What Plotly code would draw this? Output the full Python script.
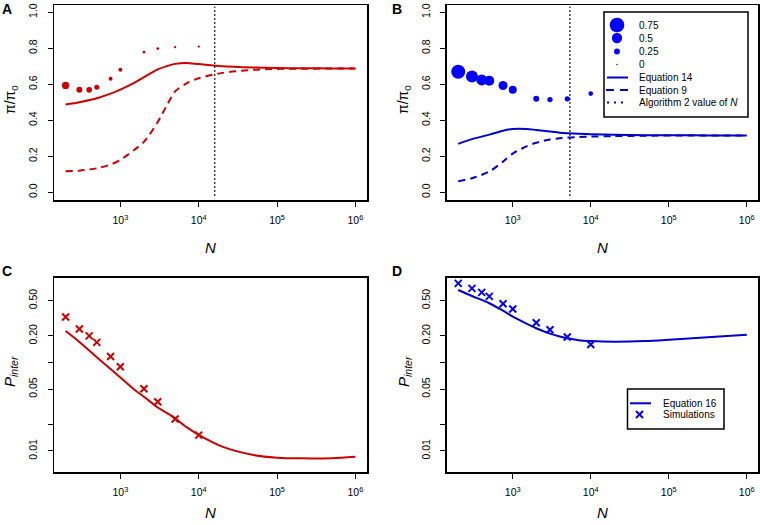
import plotly.graph_objects as go

W, H = 760, 525
FONT = "Liberation Sans, Arial, Helvetica, sans-serif"

# ---------------- data ----------------
N_SIM = [200, 300, 400, 500, 750, 1000, 2000, 3000, 5000, 10000]
N_CURVE = [200, 300, 500, 750, 1000, 1500, 2000, 3000, 4000, 5000, 7000,
           10000, 20000, 50000, 1e5, 2e5, 5e5, 1e6]

# panel A (red)
A_SIM_PI = [0.593, 0.569, 0.569, 0.583, 0.630, 0.681, 0.778, 0.798, 0.806, 0.809]
A_SIM_W = [0.33, 0.257, 0.24, 0.20, 0.143, 0.143, 0.07, 0.07, 0.046, 0.046]
A_EQ14 = [0.487, 0.500, 0.522, 0.548, 0.570, 0.607, 0.639, 0.682, 0.702, 0.713, 0.718,
          0.712, 0.700, 0.693, 0.690, 0.689, 0.688, 0.687]
A_EQ9 = [0.117, 0.120, 0.133, 0.154, 0.180, 0.235, 0.280, 0.390, 0.490, 0.560, 0.605,
         0.633, 0.663, 0.680, 0.685, 0.686, 0.687, 0.687]
A_ALG2_N = 16000

# panel B (blue)
B_SIM_PI = [0.669, 0.643, 0.624, 0.619, 0.593, 0.569, 0.520, 0.515, 0.519, 0.548]
B_SIM_W = [0.714, 0.60, 0.543, 0.486, 0.43, 0.37, 0.257, 0.217, 0.217, 0.18]
B_EQ14 = [0.269, 0.295, 0.320, 0.342, 0.352, 0.352, 0.346, 0.337, 0.331, 0.328, 0.325,
          0.322, 0.319, 0.317, 0.317, 0.316, 0.315, 0.315]
B_EQ9 = [0.061, 0.078, 0.115, 0.170, 0.215, 0.255, 0.275, 0.293, 0.300, 0.304, 0.307,
         0.309, 0.312, 0.314, 0.315, 0.315, 0.315, 0.315]
B_ALG2_N = 5400

# panel C (red) and D (blue): P_inter
C_SIM = [0.327, 0.239, 0.200, 0.169, 0.117, 0.0897, 0.0506, 0.036, 0.023, 0.0151]
C_EQ16 = [0.227, 0.171, 0.115, 0.0845, 0.0677, 0.0495, 0.0411, 0.031, 0.0266, 0.0234, 0.0186,
          0.0152, 0.0112, 0.0090, 0.0084, 0.00826, 0.0083, 0.0086]
D_SIM = [0.785, 0.689, 0.621, 0.560, 0.462, 0.403, 0.282, 0.235, 0.194, 0.160]
D_EQ16 = [0.660, 0.565, 0.468, 0.385, 0.330, 0.275, 0.244, 0.212, 0.197, 0.188, 0.179,
          0.175, 0.172, 0.175, 0.181, 0.188, 0.198, 0.206]

SIZE_LEGEND = [0.75, 0.5, 0.25, 0]
SIZE_LEGEND_LABELS = ["0.75", "0.5", "0.25", "0"]
X_TICKS = [1e3, 1e4, 1e5, 1e6]
X_TICKTEXT = ["10<sup>3</sup>", "10<sup>4</sup>", "10<sup>5</sup>", "10<sup>6</sup>"]
Y_TOP_TICKS = [0, 0.2, 0.4, 0.6, 0.8, 1.0]
Y_TOP_TICKTEXT = ["0.0", "0.2", "0.4", "0.6", "0.8", "1.0"]
Y_BOT_TICKS = [0.01, 0.02, 0.05, 0.1, 0.2, 0.5]
Y_BOT_TICKTEXT = ["0.01", "", "0.05", "", "0.20", "0.50"]

RED = "#CD0000"
BLUE_PT = "#0000FF"
BLUE_LN = "#0000CD"


def msize(v):
    return 1.5 + 17.5 * v


SIZE_A = [msize(v) for v in A_SIM_W]
SIZE_B = [msize(v) for v in B_SIM_W]
SIZE_LEG = [msize(v) for v in SIZE_LEGEND]

fig = go.Figure()

# ---- panel A ----
fig.add_trace(go.Scatter(x=N_CURVE, y=A_EQ9, mode="lines", line=dict(color=RED, width=2, dash="7px,5px", shape="spline", smoothing=0.8),
                         xaxis="x", yaxis="y", showlegend=False))
fig.add_trace(go.Scatter(x=N_CURVE, y=A_EQ14, mode="lines", line=dict(color=RED, width=2, shape="spline", smoothing=0.8),
                         xaxis="x", yaxis="y", showlegend=False))
fig.add_trace(go.Scatter(x=N_SIM, y=A_SIM_PI, mode="markers", opacity=1,
                         marker=dict(color=RED, size=SIZE_A, opacity=1, line=dict(width=0)),
                         xaxis="x", yaxis="y", showlegend=False))
fig.add_trace(go.Scatter(x=[A_ALG2_N, A_ALG2_N], y=[-0.02, 1.03], mode="lines",
                         line=dict(color="black", width=1.5, dash="1.5px,2.5px"),
                         xaxis="x", yaxis="y", showlegend=False))

# ---- panel B ----
fig.add_trace(go.Scatter(x=N_CURVE, y=B_EQ9, mode="lines", line=dict(color=BLUE_LN, width=2, dash="7px,5px", shape="spline", smoothing=0.8),
                         xaxis="x2", yaxis="y2", showlegend=False))
fig.add_trace(go.Scatter(x=N_CURVE, y=B_EQ14, mode="lines", line=dict(color=BLUE_LN, width=2, shape="spline", smoothing=0.8),
                         xaxis="x2", yaxis="y2", showlegend=False))
fig.add_trace(go.Scatter(x=N_SIM, y=B_SIM_PI, mode="markers", opacity=1,
                         marker=dict(color=BLUE_PT, size=SIZE_B, opacity=1, line=dict(width=0)),
                         xaxis="x2", yaxis="y2", showlegend=False))
fig.add_trace(go.Scatter(x=[B_ALG2_N, B_ALG2_N], y=[-0.02, 1.03], mode="lines",
                         line=dict(color="black", width=1.5, dash="1.5px,2.5px"),
                         xaxis="x2", yaxis="y2", showlegend=False))

# ---- panel C ----
fig.add_trace(go.Scatter(x=N_CURVE, y=C_EQ16, mode="lines", line=dict(color=RED, width=2, shape="spline", smoothing=0.8),
                         xaxis="x3", yaxis="y3", showlegend=False))
fig.add_trace(go.Scatter(x=N_SIM, y=C_SIM, mode="markers",
                         marker=dict(symbol="x-thin", size=7, line=dict(color=RED, width=2)),
                         xaxis="x3", yaxis="y3", showlegend=False))

# ---- panel D ----
fig.add_trace(go.Scatter(x=N_CURVE, y=D_EQ16, mode="lines", line=dict(color=BLUE_LN, width=2, shape="spline", smoothing=0.8),
                         xaxis="x4", yaxis="y4", showlegend=False))
fig.add_trace(go.Scatter(x=N_SIM, y=D_SIM, mode="markers",
                         marker=dict(symbol="x-thin", size=7, line=dict(color=BLUE_PT, width=2)),
                         xaxis="x4", yaxis="y4", showlegend=False))

# ---- legend symbols on a pixel overlay axis ----
LEG_B_ROWS = [25, 38, 51.5, 64.5, 77.5, 90, 102.5]
fig.add_trace(go.Scatter(x=[617] * 4, y=LEG_B_ROWS[:4], mode="markers",
                         marker=dict(color=BLUE_PT, size=SIZE_LEG, opacity=1, line=dict(width=0)),
                         xaxis="x5", yaxis="y5", showlegend=False, hoverinfo="skip"))
fig.add_trace(go.Scatter(x=[607, 628], y=[LEG_B_ROWS[4]] * 2, mode="lines", line=dict(color=BLUE_LN, width=2),
                         xaxis="x5", yaxis="y5", showlegend=False, hoverinfo="skip"))
fig.add_trace(go.Scatter(x=[606, 629], y=[LEG_B_ROWS[5]] * 2, mode="lines", line=dict(color=BLUE_LN, width=2, dash="8px,6px"),
                         xaxis="x5", yaxis="y5", showlegend=False, hoverinfo="skip"))
fig.add_trace(go.Scatter(x=[607, 628], y=[LEG_B_ROWS[6]] * 2, mode="lines", line=dict(color=BLUE_LN, width=2, dash="2px,5px"),
                         xaxis="x5", yaxis="y5", showlegend=False, hoverinfo="skip"))
fig.add_trace(go.Scatter(x=[630, 651], y=[403.3, 403.3], mode="lines", line=dict(color=BLUE_LN, width=2),
                         xaxis="x5", yaxis="y5", showlegend=False, hoverinfo="skip"))
fig.add_trace(go.Scatter(x=[639.5], y=[414.5], mode="markers",
                         marker=dict(symbol="x-thin", size=7, line=dict(color=BLUE_PT, width=2)),
                         xaxis="x5", yaxis="y5", showlegend=False, hoverinfo="skip"))

leg_b_texts = SIZE_LEGEND_LABELS + ["Equation 14", "Equation 9", "Algorithm 2 value of <i>N</i>"]
annotations = []
for t, yy in zip(leg_b_texts, LEG_B_ROWS):
    annotations.append(dict(x=637, y=yy, xref="x5", yref="y5", text=t, showarrow=False,
                            xanchor="left", yanchor="middle", font=dict(size=10, family=FONT, color="black")))
for t, yy in zip(["Equation 16", "Simulations"], [403.3, 414.5]):
    annotations.append(dict(x=660.5, y=yy, xref="x5", yref="y5", text=t, showarrow=False,
                            xanchor="left", yanchor="middle", font=dict(size=10, family=FONT, color="black")))

# panel labels
for t, xx, yy in [("A", 7, 8.5), ("B", 396.5, 8.5), ("C", 7, 271), ("D", 396.5, 271)]:
    annotations.append(dict(x=xx, y=yy, xref="x5", yref="y5", text="<b>%s</b>" % t, showarrow=False,
                            xanchor="center", yanchor="middle", font=dict(size=14, family=FONT, color="black")))
# axis titles
for xx, yy in [(210.5, 247), (602.5, 247), (210.5, 512), (602.5, 512)]:
    annotations.append(dict(x=xx, y=yy, xref="x5", yref="y5", text="<i>N</i>", showarrow=False,
                            xanchor="center", yanchor="middle", font=dict(size=15, family=FONT, color="black")))
for xx, yy in [(11, 100), (404, 100)]:
    annotations.append(dict(x=xx, y=yy, xref="x5", yref="y5", text="π/π<sub>0</sub>", showarrow=False,
                            textangle=-90, xanchor="center", yanchor="middle",
                            font=dict(size=14, family=FONT, color="black")))
for xx, yy in [(10, 372), (404, 372)]:
    annotations.append(dict(x=xx, y=yy, xref="x5", yref="y5", text="<i>P</i><sub><i>inter</i></sub>", showarrow=False,
                            textangle=-90, xanchor="center", yanchor="middle",
                            font=dict(size=15, family=FONT, color="black")))

shapes = [
    dict(type="rect", xref="x5", yref="y5", x0=604, x1=748, y0=12, y1=117, line=dict(color="black", width=1.5)),
    dict(type="rect", xref="x5", yref="y5", x0=627.5, x1=724, y0=389, y1=429, line=dict(color="black", width=1.5)),
]

XL = [54 / W, 367 / W]
XR = [446.7 / W, 758.3 / W]
YT = [1 - 200 / H, 1 - 5 / H]
YB = [1 - 472.3 / H, 1 - 277.7 / H]

common = dict(showline=True, mirror=True, linecolor="black", linewidth=1.5, ticks="outside", ticklen=5,
              tickwidth=1, tickcolor="black", showgrid=False, zeroline=False,
              tickfont=dict(size=10.5, family=FONT, color="black"))
xcommon = dict(common, type="log", range=[2.153, 6.148], tickvals=X_TICKS, ticktext=X_TICKTEXT,
               ticklabelstandoff=5)
ytop = dict(common, range=[-0.043, 1.04], tickvals=Y_TOP_TICKS, ticktext=Y_TOP_TICKTEXT, tickangle=-90,
            ticklabelstandoff=6)
ybot = dict(common, type="log", range=[-2.241, -0.041], tickvals=Y_BOT_TICKS, ticktext=Y_BOT_TICKTEXT,
            tickangle=-90, ticklabelstandoff=6)

fig.update_layout(
    width=W, height=H, margin=dict(l=0, r=0, t=0, b=0),
    paper_bgcolor="white", plot_bgcolor="rgba(0,0,0,0)", template="none",
    font=dict(family=FONT, color="black"),
    xaxis=dict(xcommon, domain=XL, anchor="y"),
    yaxis=dict(ytop, domain=YT, anchor="x"),
    xaxis2=dict(xcommon, domain=XR, anchor="y2"),
    yaxis2=dict(ytop, domain=YT, anchor="x2"),
    xaxis3=dict(xcommon, domain=XL, anchor="y3"),
    yaxis3=dict(ybot, domain=YB, anchor="x3"),
    xaxis4=dict(xcommon, domain=XR, anchor="y4"),
    yaxis4=dict(ybot, domain=YB, anchor="x4"),
    xaxis5=dict(domain=[0, 1], range=[0, W], visible=False, fixedrange=True, anchor="y5"),
    yaxis5=dict(domain=[0, 1], range=[H, 0], visible=False, fixedrange=True, anchor="x5"),
    annotations=annotations, shapes=shapes, showlegend=False, hovermode=False,
)

fig.write_html("out.html", config={"displayModeBar": False, "staticPlot": True},
               post_script="document.body.style.margin='0px';document.body.style.padding='0px';")
